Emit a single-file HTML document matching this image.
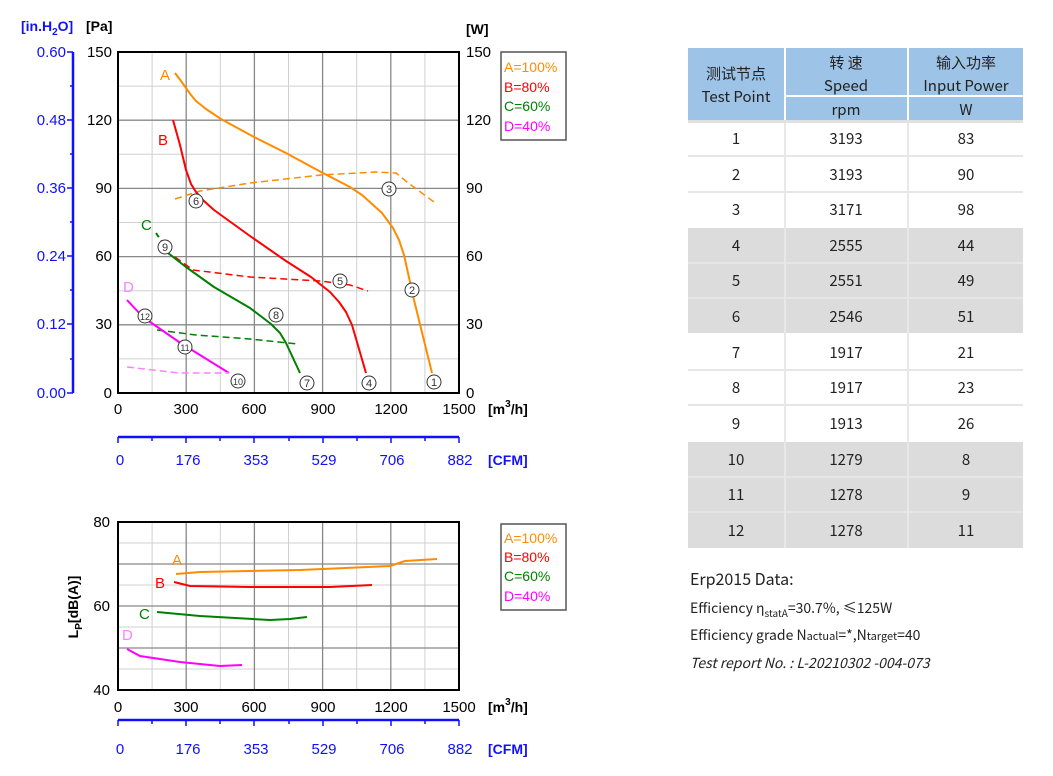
<!DOCTYPE html>
<html><head><meta charset="utf-8"><style>
html,body{margin:0;padding:0;background:#fff;width:1053px;height:776px;overflow:hidden}
svg{display:block;font-family:"Liberation Sans","Noto Sans CJK SC",sans-serif}
.cjk{font-family:"Noto Sans CJK SC",sans-serif}
</style></head><body>
<svg width="1053" height="776" viewBox="0 0 1053 776">
<g stroke="#d0d0d0" stroke-width="1">
<line x1="152.1" y1="52" x2="152.1" y2="393"/><line x1="220.3" y1="52" x2="220.3" y2="393"/><line x1="288.5" y1="52" x2="288.5" y2="393"/><line x1="356.7" y1="52" x2="356.7" y2="393"/><line x1="424.9" y1="52" x2="424.9" y2="393"/>
<line x1="118" y1="358.9" x2="459" y2="358.9"/><line x1="118" y1="290.7" x2="459" y2="290.7"/><line x1="118" y1="222.5" x2="459" y2="222.5"/><line x1="118" y1="154.3" x2="459" y2="154.3"/><line x1="118" y1="86.1" x2="459" y2="86.1"/>
<line x1="152.1" y1="522" x2="152.1" y2="690"/><line x1="220.3" y1="522" x2="220.3" y2="690"/><line x1="288.5" y1="522" x2="288.5" y2="690"/><line x1="356.7" y1="522" x2="356.7" y2="690"/><line x1="424.9" y1="522" x2="424.9" y2="690"/>
<line x1="118" y1="543" x2="459" y2="543"/><line x1="118" y1="585" x2="459" y2="585"/><line x1="118" y1="627" x2="459" y2="627"/><line x1="118" y1="669" x2="459" y2="669"/>
</g>
<g stroke="#888" stroke-width="1.3">
<line x1="186.2" y1="52" x2="186.2" y2="393"/><line x1="254.4" y1="52" x2="254.4" y2="393"/><line x1="322.6" y1="52" x2="322.6" y2="393"/><line x1="390.8" y1="52" x2="390.8" y2="393"/>
<line x1="118" y1="324.8" x2="459" y2="324.8"/><line x1="118" y1="256.6" x2="459" y2="256.6"/><line x1="118" y1="188.4" x2="459" y2="188.4"/><line x1="118" y1="120.2" x2="459" y2="120.2"/>
<line x1="186.2" y1="522" x2="186.2" y2="690"/><line x1="254.4" y1="522" x2="254.4" y2="690"/><line x1="322.6" y1="522" x2="322.6" y2="690"/><line x1="390.8" y1="522" x2="390.8" y2="690"/>
<line x1="118" y1="564" x2="459" y2="564"/><line x1="118" y1="606" x2="459" y2="606"/><line x1="118" y1="648" x2="459" y2="648"/>
</g>
<rect x="118" y="52" width="341" height="341" fill="none" stroke="#000" stroke-width="2"/>
<rect x="118" y="522" width="341" height="168" fill="none" stroke="#000" stroke-width="2"/>
<g font-size="15" fill="#000" text-anchor="end">
<text x="112" y="57">150</text><text x="112" y="125">120</text><text x="112" y="193">90</text><text x="112" y="261">60</text><text x="112" y="329">30</text><text x="112" y="398">0</text>
</g>
<g font-size="15" fill="#000" text-anchor="start">
<text x="466" y="57">150</text><text x="466" y="125">120</text><text x="466" y="193">90</text><text x="466" y="261">60</text><text x="466" y="329">30</text><text x="466" y="398">0</text>
</g>
<g font-size="15" fill="#000" text-anchor="middle">
<text x="118" y="414">0</text><text x="186" y="414">300</text><text x="254" y="414">600</text><text x="323" y="414">900</text><text x="391" y="414">1200</text><text x="459" y="414">1500</text>
<text x="118" y="712">0</text><text x="186" y="712">300</text><text x="254" y="712">600</text><text x="323" y="712">900</text><text x="391" y="712">1200</text><text x="459" y="712">1500</text>
</g>
<text x="488" y="414" font-size="14" font-weight="bold">[m<tspan dy="-7" font-size="10">3</tspan><tspan dy="7">/h]</tspan></text>
<text x="488" y="712" font-size="14" font-weight="bold">[m<tspan dy="-7" font-size="10">3</tspan><tspan dy="7">/h]</tspan></text>
<text x="86" y="31" font-size="14" font-weight="bold">[Pa]</text>
<text x="466" y="34" font-size="14" font-weight="bold">[W]</text>
<text x="21" y="31" font-size="14" font-weight="bold" fill="#1010ff">[in.H<tspan dy="4" font-size="10">2</tspan><tspan dy="-4">O]</tspan></text>
<g stroke="#1010ff" stroke-width="2.5"><line x1="73" y1="52" x2="73" y2="393"/></g>
<g stroke="#1010ff" stroke-width="1.5">
<line x1="67" y1="52" x2="73" y2="52"/><line x1="67" y1="120" x2="73" y2="120"/><line x1="67" y1="188" x2="73" y2="188"/><line x1="67" y1="256" x2="73" y2="256"/><line x1="67" y1="324" x2="73" y2="324"/><line x1="67" y1="393" x2="73" y2="393"/>
<line x1="70" y1="86" x2="73" y2="86"/><line x1="70" y1="154" x2="73" y2="154"/><line x1="70" y1="222" x2="73" y2="222"/><line x1="70" y1="290" x2="73" y2="290"/><line x1="70" y1="359" x2="73" y2="359"/>
</g>
<g font-size="15" fill="#1010ff" text-anchor="end">
<text x="66" y="57">0.60</text><text x="66" y="125">0.48</text><text x="66" y="193">0.36</text><text x="66" y="261">0.24</text><text x="66" y="329">0.12</text><text x="66" y="398">0.00</text>
</g>
<g stroke="#1010ff" stroke-width="2.5"><line x1="118" y1="437" x2="459" y2="437"/><line x1="118" y1="720" x2="459" y2="720"/></g>
<g stroke="#1010ff" stroke-width="1.5">
<path d="M118 437v6M152 437v4M186 437v6M220 437v4M254 437v6M289 437v4M323 437v6M357 437v4M391 437v6M425 437v4M459 437v6"/>
<path d="M118 720v6M152 720v4M186 720v6M220 720v4M254 720v6M289 720v4M323 720v6M357 720v4M391 720v6M425 720v4M459 720v6"/>
</g>
<g font-size="15" fill="#1010ff" text-anchor="middle">
<text x="120" y="465">0</text><text x="188" y="465">176</text><text x="256" y="465">353</text><text x="324" y="465">529</text><text x="392" y="465">706</text><text x="460" y="465">882</text>
<text x="120" y="754">0</text><text x="188" y="754">176</text><text x="256" y="754">353</text><text x="324" y="754">529</text><text x="392" y="754">706</text><text x="460" y="754">882</text>
</g>
<text x="488" y="465" font-size="14" font-weight="bold" fill="#1010ff">[CFM]</text>
<text x="488" y="754" font-size="14" font-weight="bold" fill="#1010ff">[CFM]</text>
<g font-size="15" text-anchor="end"><text x="110" y="527">80</text><text x="110" y="611">60</text><text x="110" y="695">40</text></g>
<text transform="translate(78,607) rotate(-90)" font-size="14" font-weight="bold" text-anchor="middle">L<tspan dy="4" font-size="10">P</tspan><tspan dy="-4">[dB(A)]</tspan></text>
<g font-size="14">
<rect x="501" y="52" width="65" height="88" fill="#fff" stroke="#555" stroke-width="1.5"/>
<text x="504" y="72" fill="#ff8c00">A=100%</text><text x="504" y="92" fill="#ff0000">B=80%</text><text x="504" y="111" fill="#008000">C=60%</text><text x="504" y="131" fill="#ff00ff">D=40%</text>
<rect x="501" y="524" width="65" height="86" fill="#fff" stroke="#555" stroke-width="1.5"/>
<text x="504" y="543" fill="#ff8c00">A=100%</text><text x="504" y="562" fill="#ff0000">B=80%</text><text x="504" y="581" fill="#008000">C=60%</text><text x="504" y="601" fill="#ff00ff">D=40%</text>
</g>
<g fill="none" stroke-width="2" stroke-linejoin="round">
<polyline stroke="#ff8c00" points="175,73 181,81 186,88 191,95 196,101 206,109 221,119 254,137 286,153 321,172 350,187 362,195 371,203 382,213 393,228 399,240 404,255 414,300 432,373"/>
<polyline stroke="#ff8c00" stroke-width="1.5" stroke-dasharray="7,4" points="175,199 200,191 250,183 321,175 375,172 396,173 407,182 434,202"/>
<polyline stroke="#ff0000" points="173,120 180,145 186,170 191,184 196,192 204,201 214,210 250,236 286,261 311,277 330,292 339,302 346,312 352,325 366,373"/>
<polyline stroke="#ff0000" stroke-width="1.5" stroke-dasharray="7,4" points="175,257 193,270 250,277 321,281 350,285 368,291"/>
<polyline stroke="#008000" points="168,253 186,267 214,287 250,308 271,324 280,333 286,343 300,373"/>
<polyline stroke="#008000" stroke-dasharray="5,4" points="156,233 162,242"/>
<polyline stroke="#008000" stroke-width="1.5" stroke-dasharray="7,4" points="157,330 196,335 250,339 298,344"/>
<polyline stroke="#ff00ff" points="127,300 143,317 179,342 229,373"/>
<polyline stroke="#ff80ff" stroke-width="1.5" stroke-dasharray="7,4" points="127,367 179,373 229,373"/>
</g>
<g font-size="15"><text x="160" y="80" fill="#ff8c00">A</text><text x="158" y="145" fill="#ff0000">B</text><text x="141" y="230" fill="#008000">C</text><text x="123" y="292" fill="#ff80ff">D</text></g>
<g font-size="11" text-anchor="middle" fill="#333">
<g fill="#fff" stroke="#333" stroke-width="1">
<circle cx="434" cy="382" r="7"/><circle cx="412" cy="290" r="7"/><circle cx="389" cy="189" r="7"/><circle cx="369" cy="383" r="7"/><circle cx="340" cy="281" r="7"/><circle cx="196" cy="201" r="7"/><circle cx="307" cy="383" r="7"/><circle cx="276" cy="315" r="7"/><circle cx="165" cy="247" r="7"/><circle cx="238" cy="381" r="7"/><circle cx="185" cy="347" r="7"/><circle cx="145" cy="316" r="7"/>
</g>
<text x="434" y="386">1</text><text x="412" y="294">2</text><text x="389" y="193">3</text><text x="369" y="387">4</text><text x="340" y="285">5</text><text x="196" y="205">6</text><text x="307" y="387">7</text><text x="276" y="319">8</text><text x="165" y="251">9</text>
<text x="238" y="385" font-size="9">10</text><text x="185" y="351" font-size="9">11</text><text x="145" y="320" font-size="9">12</text>
</g>
<g fill="none" stroke-width="2">
<polyline stroke="#ff8c00" points="176,574 200,572 300,570 390,566 405,561 437,559"/>
<polyline stroke="#ff0000" points="174,582 190,586 250,587 330,587 372,585"/>
<polyline stroke="#008000" points="157,612 200,616 270,620 290,619 307,617"/>
<polyline stroke="#ff00ff" points="127,649 140,656 180,662 220,666 242,665"/>
</g>
<g font-size="15"><text x="172" y="565" fill="#ff8c00">A</text><text x="155" y="588" fill="#ff0000">B</text><text x="139" y="619" fill="#008000">C</text><text x="122" y="640" fill="#ff80ff">D</text></g>
<g>
<rect x="688" y="48" width="96" height="72" fill="#9dc3e6"/>
<rect x="786" y="48" width="121" height="47" fill="#9dc3e6"/>
<rect x="909" y="48" width="114" height="47" fill="#9dc3e6"/>
<rect x="786" y="97" width="121" height="23" fill="#9dc3e6"/>
<rect x="909" y="97" width="114" height="23" fill="#9dc3e6"/>
<rect x="688" y="120" width="335" height="3" fill="#e0e0e0"/>
<rect x="688" y="227" width="335" height="107" fill="#dcdcdc"/>
<rect x="688" y="441" width="335" height="107" fill="#dcdcdc"/>
<g stroke="#e6e6e6" stroke-width="2">
<line x1="688" y1="156" x2="1023" y2="156"/><line x1="688" y1="192" x2="1023" y2="192"/><line x1="688" y1="263" x2="1023" y2="263"/><line x1="688" y1="298" x2="1023" y2="298"/><line x1="688" y1="370" x2="1023" y2="370"/><line x1="688" y1="405" x2="1023" y2="405"/><line x1="688" y1="477" x2="1023" y2="477"/><line x1="688" y1="512" x2="1023" y2="512"/>
</g>
<g stroke="#fff" stroke-width="2">
<line x1="688" y1="227" x2="1023" y2="227"/><line x1="688" y1="334" x2="1023" y2="334"/><line x1="688" y1="441" x2="1023" y2="441"/>
</g>
<g stroke="#e8e8e8" stroke-width="2"><line x1="785" y1="123" x2="785" y2="548"/><line x1="908" y1="123" x2="908" y2="548"/></g>
<g class="cjk" font-size="15" fill="#222" text-anchor="middle">
<text x="736" y="79">测试节点</text><text x="736" y="102">Test Point</text>
<text x="846" y="68">转 速</text><text x="846" y="91">Speed</text><text x="846" y="115">rpm</text>
<text x="966" y="68">输入功率</text><text x="966" y="91">Input Power</text><text x="966" y="115">W</text>
<text x="736" y="144">1</text><text x="846" y="144">3193</text><text x="966" y="144">83</text>
<text x="736" y="180">2</text><text x="846" y="180">3193</text><text x="966" y="180">90</text>
<text x="736" y="215">3</text><text x="846" y="215">3171</text><text x="966" y="215">98</text>
<text x="736" y="251">4</text><text x="846" y="251">2555</text><text x="966" y="251">44</text>
<text x="736" y="286">5</text><text x="846" y="286">2551</text><text x="966" y="286">49</text>
<text x="736" y="322">6</text><text x="846" y="322">2546</text><text x="966" y="322">51</text>
<text x="736" y="358">7</text><text x="846" y="358">1917</text><text x="966" y="358">21</text>
<text x="736" y="393">8</text><text x="846" y="393">1917</text><text x="966" y="393">23</text>
<text x="736" y="429">9</text><text x="846" y="429">1913</text><text x="966" y="429">26</text>
<text x="736" y="465">10</text><text x="846" y="465">1279</text><text x="966" y="465">8</text>
<text x="736" y="500">11</text><text x="846" y="500">1278</text><text x="966" y="500">9</text>
<text x="736" y="536">12</text><text x="846" y="536">1278</text><text x="966" y="536">11</text>
</g>
</g>
<g class="cjk" fill="#222">
<text x="690" y="585" font-size="16">Erp2015  Data:</text>
<text x="690" y="613" font-size="14">Efficiency η<tspan dy="4" font-size="10">statA</tspan><tspan dy="-4">=30.7%, ≤125W</tspan></text>
<text x="690" y="640" font-size="14">Efficiency grade  N<tspan font-size="11">actual</tspan>=*,N<tspan font-size="11">target</tspan>=40</text>
<text x="690" y="668" font-size="14" font-style="italic">Test report No.  : L-20210302 -004-073</text>
</g>
</svg>
</body></html>
